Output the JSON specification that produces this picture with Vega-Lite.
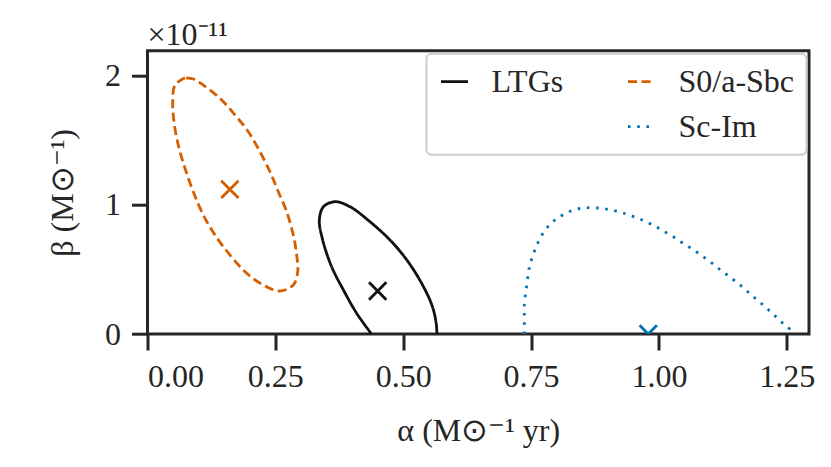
{
  "$schema": "https://vega.github.io/schema/vega-lite/v6.json",
  "autosize": "none",
  "width": 661.5,
  "height": 283.3,
  "padding": {"left": 147.5, "top": 50.7, "right": 22, "bottom": 133},
  "background": "white",
  "title": {
    "text": "×10⁻¹¹",
    "anchor": "start",
    "frame": "group",
    "baseline": "alphabetic",
    "offset": 8,
    "dy": 34,
    "font": "Liberation Serif",
    "fontSize": 32,
    "fontWeight": "normal",
    "color": "#262626"
  },
  "datasets": {
    "contours": [
      {"group": "S0/a-Sbc", "i": 0, "alpha": 0.0733, "beta": 1.984},
      {"group": "S0/a-Sbc", "i": 1, "alpha": 0.0538, "beta": 1.927},
      {"group": "S0/a-Sbc", "i": 2, "alpha": 0.0493, "beta": 1.798},
      {"group": "S0/a-Sbc", "i": 3, "alpha": 0.0518, "beta": 1.643},
      {"group": "S0/a-Sbc", "i": 4, "alpha": 0.0602, "beta": 1.463},
      {"group": "S0/a-Sbc", "i": 5, "alpha": 0.0733, "beta": 1.283},
      {"group": "S0/a-Sbc", "i": 6, "alpha": 0.0895, "beta": 1.101},
      {"group": "S0/a-Sbc", "i": 7, "alpha": 0.1091, "beta": 0.921},
      {"group": "S0/a-Sbc", "i": 8, "alpha": 0.132, "beta": 0.766},
      {"group": "S0/a-Sbc", "i": 9, "alpha": 0.1613, "beta": 0.611},
      {"group": "S0/a-Sbc", "i": 10, "alpha": 0.1939, "beta": 0.47},
      {"group": "S0/a-Sbc", "i": 11, "alpha": 0.2264, "beta": 0.379},
      {"group": "S0/a-Sbc", "i": 12, "alpha": 0.259, "beta": 0.333},
      {"group": "S0/a-Sbc", "i": 13, "alpha": 0.285, "beta": 0.379},
      {"group": "S0/a-Sbc", "i": 14, "alpha": 0.2936, "beta": 0.482},
      {"group": "S0/a-Sbc", "i": 15, "alpha": 0.2917, "beta": 0.611},
      {"group": "S0/a-Sbc", "i": 16, "alpha": 0.285, "beta": 0.766},
      {"group": "S0/a-Sbc", "i": 17, "alpha": 0.2721, "beta": 0.947},
      {"group": "S0/a-Sbc", "i": 18, "alpha": 0.2557, "beta": 1.101},
      {"group": "S0/a-Sbc", "i": 19, "alpha": 0.2395, "beta": 1.256},
      {"group": "S0/a-Sbc", "i": 20, "alpha": 0.2199, "beta": 1.411},
      {"group": "S0/a-Sbc", "i": 21, "alpha": 0.1971, "beta": 1.566},
      {"group": "S0/a-Sbc", "i": 22, "alpha": 0.1711, "beta": 1.695},
      {"group": "S0/a-Sbc", "i": 23, "alpha": 0.1417, "beta": 1.824},
      {"group": "S0/a-Sbc", "i": 24, "alpha": 0.1091, "beta": 1.927},
      {"group": "S0/a-Sbc", "i": 25, "alpha": 0.0895, "beta": 1.974},
      {"group": "S0/a-Sbc", "i": 26, "alpha": 0.0733, "beta": 1.984},

      {"group": "LTGs", "i": 0, "alpha": 0.438, "beta": 0.0},
      {"group": "LTGs", "i": 1, "alpha": 0.409, "beta": 0.16},
      {"group": "LTGs", "i": 2, "alpha": 0.383, "beta": 0.341},
      {"group": "LTGs", "i": 3, "alpha": 0.36, "beta": 0.521},
      {"group": "LTGs", "i": 4, "alpha": 0.3425, "beta": 0.728},
      {"group": "LTGs", "i": 5, "alpha": 0.336, "beta": 0.882},
      {"group": "LTGs", "i": 6, "alpha": 0.344, "beta": 0.985},
      {"group": "LTGs", "i": 7, "alpha": 0.3666, "beta": 1.024},
      {"group": "LTGs", "i": 8, "alpha": 0.396, "beta": 0.985},
      {"group": "LTGs", "i": 9, "alpha": 0.435, "beta": 0.869},
      {"group": "LTGs", "i": 10, "alpha": 0.474, "beta": 0.728},
      {"group": "LTGs", "i": 11, "alpha": 0.507, "beta": 0.573},
      {"group": "LTGs", "i": 12, "alpha": 0.536, "beta": 0.392},
      {"group": "LTGs", "i": 13, "alpha": 0.556, "beta": 0.224},
      {"group": "LTGs", "i": 14, "alpha": 0.564, "beta": 0.095},
      {"group": "LTGs", "i": 15, "alpha": 0.566, "beta": 0.0},

      {"group": "Sc-Im", "i": 0, "alpha": 0.7367, "beta": 0.0},
      {"group": "Sc-Im", "i": 1, "alpha": 0.7367, "beta": 0.075},
      {"group": "Sc-Im", "i": 2, "alpha": 0.7367, "beta": 0.149},
      {"group": "Sc-Im", "i": 3, "alpha": 0.7367, "beta": 0.224},
      {"group": "Sc-Im", "i": 4, "alpha": 0.7387, "beta": 0.299},
      {"group": "Sc-Im", "i": 5, "alpha": 0.7413, "beta": 0.372},
      {"group": "Sc-Im", "i": 6, "alpha": 0.7465, "beta": 0.516},
      {"group": "Sc-Im", "i": 7, "alpha": 0.7517, "beta": 0.588},
      {"group": "Sc-Im", "i": 8, "alpha": 0.7582, "beta": 0.658},
      {"group": "Sc-Im", "i": 9, "alpha": 0.766, "beta": 0.728},
      {"group": "Sc-Im", "i": 10, "alpha": 0.775, "beta": 0.789},
      {"group": "Sc-Im", "i": 11, "alpha": 0.787, "beta": 0.849},
      {"group": "Sc-Im", "i": 12, "alpha": 0.801, "beta": 0.895},
      {"group": "Sc-Im", "i": 13, "alpha": 0.8176, "beta": 0.934},
      {"group": "Sc-Im", "i": 14, "alpha": 0.835, "beta": 0.962},
      {"group": "Sc-Im", "i": 15, "alpha": 0.853, "beta": 0.975},
      {"group": "Sc-Im", "i": 16, "alpha": 0.872, "beta": 0.978},
      {"group": "Sc-Im", "i": 17, "alpha": 0.891, "beta": 0.97},
      {"group": "Sc-Im", "i": 18, "alpha": 0.9095, "beta": 0.957},
      {"group": "Sc-Im", "i": 19, "alpha": 0.928, "beta": 0.939},
      {"group": "Sc-Im", "i": 20, "alpha": 0.945, "beta": 0.916},
      {"group": "Sc-Im", "i": 21, "alpha": 0.963, "beta": 0.89},
      {"group": "Sc-Im", "i": 22, "alpha": 0.98, "beta": 0.859},
      {"group": "Sc-Im", "i": 23, "alpha": 0.996, "beta": 0.826},
      {"group": "Sc-Im", "i": 24, "alpha": 1.012, "beta": 0.789},
      {"group": "Sc-Im", "i": 25, "alpha": 1.029, "beta": 0.751},
      {"group": "Sc-Im", "i": 26, "alpha": 1.044, "beta": 0.71},
      {"group": "Sc-Im", "i": 27, "alpha": 1.06, "beta": 0.671},
      {"group": "Sc-Im", "i": 28, "alpha": 1.0757, "beta": 0.629},
      {"group": "Sc-Im", "i": 29, "alpha": 1.091, "beta": 0.586},
      {"group": "Sc-Im", "i": 30, "alpha": 1.106, "beta": 0.542},
      {"group": "Sc-Im", "i": 31, "alpha": 1.1206, "beta": 0.495},
      {"group": "Sc-Im", "i": 32, "alpha": 1.1355, "beta": 0.451},
      {"group": "Sc-Im", "i": 33, "alpha": 1.1505, "beta": 0.405},
      {"group": "Sc-Im", "i": 34, "alpha": 1.165, "beta": 0.358},
      {"group": "Sc-Im", "i": 35, "alpha": 1.1785, "beta": 0.31},
      {"group": "Sc-Im", "i": 36, "alpha": 1.192, "beta": 0.263},
      {"group": "Sc-Im", "i": 37, "alpha": 1.2066, "beta": 0.214},
      {"group": "Sc-Im", "i": 38, "alpha": 1.22, "beta": 0.165},
      {"group": "Sc-Im", "i": 39, "alpha": 1.234, "beta": 0.114},
      {"group": "Sc-Im", "i": 40, "alpha": 1.248, "beta": 0.062},
      {"group": "Sc-Im", "i": 41, "alpha": 1.2614, "beta": 0.021},
      {"group": "Sc-Im", "i": 42, "alpha": 1.265, "beta": 0.0}
    ],
    "centers": [
      {"group": "LTGs", "alpha": 0.45, "beta": 0.333},
      {"group": "S0/a-Sbc", "alpha": 0.161, "beta": 1.12},
      {"group": "Sc-Im", "alpha": 0.979, "beta": 0.0}
    ]
  },
  "layer": [
    {
      "data": {"name": "contours"},
      "mark": {"type": "line", "strokeWidth": 2.8, "strokeCap": "butt", "interpolate": "catmull-rom", "clip": true},
      "encoding": {
        "x": {
          "field": "alpha",
          "type": "quantitative",
          "scale": {"domain": [0, 1.2933], "nice": false, "zero": false},
          "axis": {
            "title": "α  (M⊙⁻¹ yr)",
            "values": [0, 0.25, 0.5, 0.75, 1, 1.25],
            "format": ".2f",
            "titlePadding": 23
          }
        },
        "y": {
          "field": "beta",
          "type": "quantitative",
          "scale": {"domain": [0, 2.193], "nice": false, "zero": false},
          "axis": {
            "title": "β  (M⊙⁻¹)",
            "values": [0, 1, 2],
            "format": "d",
            "titlePadding": 25
          }
        },
        "order": {"field": "i", "type": "quantitative"},
        "color": {
          "field": "group",
          "type": "nominal",
          "scale": {
            "domain": ["LTGs", " ", "S0/a-Sbc", "Sc-Im"],
            "range": ["#111111", "rgba(0,0,0,0)", "#d55e00", "#0072b2"]
          },
          "legend": {"title": null}
        },
        "strokeDash": {
          "field": "group",
          "type": "nominal",
          "scale": {
            "domain": ["LTGs", " ", "S0/a-Sbc", "Sc-Im"],
            "range": [[1, 0], [1, 0], [9, 4.5], [2.6, 6.6]]
          },
          "legend": {"title": null}
        }
      }
    },
    {
      "data": {"name": "centers"},
      "mark": {
        "type": "point",
        "shape": "M-1,-1L1,1M-1,1L1,-1",
        "filled": false,
        "size": 300,
        "strokeWidth": 2.8,
        "clip": true,
        "opacity": 1
      },
      "encoding": {
        "x": {"field": "alpha", "type": "quantitative"},
        "y": {"field": "beta", "type": "quantitative"},
        "stroke": {
          "field": "group",
          "type": "nominal",
          "scale": {
            "domain": ["LTGs", "S0/a-Sbc", "Sc-Im"],
            "range": ["#111111", "#d55e00", "#0072b2"]
          },
          "legend": null
        }
      }
    }
  ],
  "config": {
    "font": "Liberation Serif",
    "view": {"stroke": "#262626", "strokeWidth": 3},
    "axis": {
      "domain": false,
      "grid": false,
      "ticks": true,
      "tickSize": 16,
      "tickWidth": 3,
      "tickColor": "#262626",
      "labelFont": "Liberation Serif",
      "labelFontSize": 32,
      "labelColor": "#262626",
      "labelPadding": 11,
      "titleFont": "Liberation Serif",
      "titleFontSize": 32,
      "titleFontWeight": "normal",
      "titleColor": "#262626"
    },
    "legend": {
      "orient": "top-right",
      "offset": 3,
      "columns": 2,
      "symbolType": "stroke",
      "symbolSize": 729,
      "symbolStrokeWidth": 2.8,
      "labelFont": "Liberation Serif",
      "labelFontSize": 32,
      "labelColor": "#262626",
      "labelOffset": 21,
      "columnPadding": 58,
      "rowPadding": 13,
      "padding": 12,
      "fillColor": "white",
      "strokeColor": "#cccccc",
      "strokeWidth": 2,
      "cornerRadius": 5
    }
  }
}
